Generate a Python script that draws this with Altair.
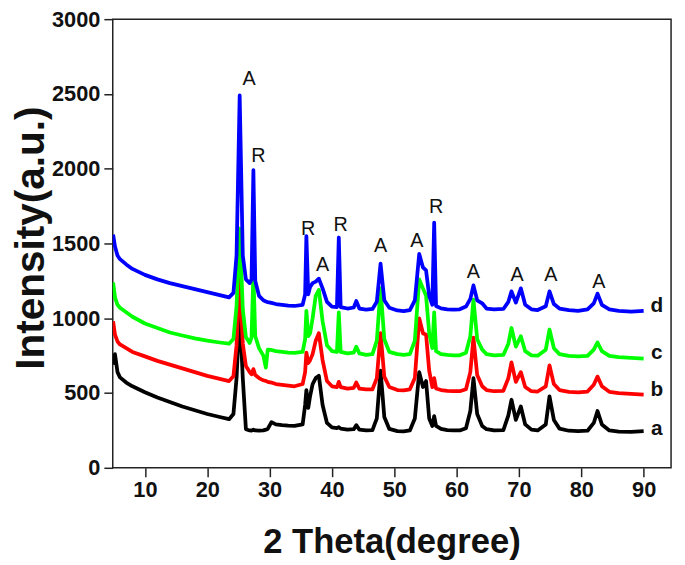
import altair as alt
import pandas as pd

# 2-theta positions (degree) shared by all four patterns
two_theta = [
    4.9, 5.2, 5.6, 6, 7, 8, 10, 12, 14, 16,
    18, 20, 22, 23.5, 24.2, 24.7, 25.2, 25.7, 26.2, 26.8,
    27.1, 27.4, 27.7, 28.3, 29.0, 29.4, 29.7, 30.3, 31, 32,
    33, 34, 35.3, 35.7, 35.9, 36.2, 36.5, 36.9, 37.4, 37.9,
    38.5, 39.2, 40.0, 40.8, 41.1, 41.4, 42.5, 43.5, 43.9, 44.4,
    45.5, 46.5, 47.2, 47.8, 48.4, 49.2, 50.5, 51.5, 52.5, 53.3,
    54.0, 54.6, 55.1, 55.6, 56.1, 56.4, 56.7, 57.5, 58.5, 59.5,
    60.5, 61.5, 62.2, 62.7, 63.3, 64.1, 64.8, 66, 67.5, 68.3,
    68.8, 69.5, 70.3, 71.0, 72, 73, 74.3, 74.9, 75.6, 76.5,
    78, 79.5, 81, 82, 82.6, 83.3, 84.5, 86, 88, 90,
]

intensity_a = [
    690, 760, 640, 605, 570, 545, 505, 470, 440, 410,
    385, 360, 340, 325, 360, 600, 1050, 600, 258, 250,
    248, 255, 250, 248, 250, 255, 260, 305, 290, 285,
    282, 280, 290, 420, 520, 400, 480, 560, 600, 615,
    420, 300, 270, 265, 272, 262, 255, 258, 285, 255,
    250, 252, 330, 650, 340, 260, 245, 243, 250, 330,
    640, 540, 580, 330, 280, 345, 280, 260, 252, 250,
    250, 265, 380, 600, 360, 280, 258, 250, 252, 350,
    455, 320, 410, 290, 255, 250, 290, 478, 320, 262,
    248, 245, 248, 300, 380, 290, 250, 242, 240, 245,
]

intensity_b = [
    980, 890, 845, 825, 800, 775, 745, 715, 690, 665,
    640, 615, 595, 580, 612, 820, 1290, 830, 680, 640,
    625, 660, 620, 600, 585, 580, 575, 570, 560, 555,
    550, 545, 560, 640, 770, 700, 720, 760, 850, 900,
    720, 580, 545, 540, 575, 540, 530, 535, 570, 530,
    525, 525, 600, 900, 610, 540, 520, 518, 525, 600,
    1000, 900, 890, 650, 540, 600, 530, 520, 515, 512,
    512, 525, 640, 870, 620, 545, 520, 512, 515, 600,
    705, 575, 640, 540, 512, 510, 545, 685, 560, 520,
    508, 505, 510, 555, 610, 545, 508, 500, 495, 490,
]

intensity_c = [
    1240, 1140, 1090, 1070, 1040, 1010, 965, 935, 905, 885,
    865, 850, 838, 830, 862, 1080, 1600, 1060, 875, 835,
    870, 1300, 880, 800, 750, 670, 790, 788, 780, 775,
    770, 768, 775, 860, 1050, 880, 900, 1000, 1150, 1190,
    980, 820, 780, 775, 1040, 775, 765, 770, 810, 765,
    755, 760, 850, 1200, 860, 775, 760, 755, 760, 850,
    1260, 1200, 1150, 900, 800, 1040, 780, 760, 755, 752,
    752, 770, 880, 1125, 860, 790, 760, 752, 755, 830,
    935, 810, 880, 780, 752, 750, 790, 925, 800, 760,
    748, 745, 748, 790, 838, 780, 748, 740, 735, 730,
]

intensity_d = [
    1560, 1480, 1420, 1395, 1360, 1330, 1290, 1260, 1235, 1215,
    1195, 1175, 1155, 1140, 1170, 1420, 2490, 1420, 1260, 1235,
    1260, 1990, 1250, 1150, 1120, 1112, 1108, 1103, 1095, 1090,
    1085, 1082, 1090, 1160, 1550, 1160, 1210, 1235, 1245, 1265,
    1200, 1110, 1078, 1075, 1540, 1075, 1065, 1072, 1115, 1065,
    1058, 1062, 1110, 1365, 1120, 1070, 1052, 1048, 1055, 1120,
    1430, 1340, 1320, 1150, 1090, 1640, 1082, 1066, 1060, 1058,
    1060, 1078, 1130, 1220, 1120, 1100, 1065, 1060, 1062, 1110,
    1180, 1105, 1200, 1090, 1060, 1055, 1080, 1180, 1095, 1065,
    1055, 1050, 1060, 1100, 1165, 1090, 1060, 1050, 1045, 1050,
]

series_names = ["a", "b", "c", "d"]
series_colors = ["#000000", "#ff0000", "#00ff00", "#0000ff"]

# phase labels (A = anatase, R = rutile)
peak_text = ["A", "R", "R", "A", "R", "A", "A", "R", "A", "A", "A", "A"]
peak_x = [26.7, 28.2, 36.2, 38.5, 41.4, 47.8, 53.6, 56.7, 62.7, 69.7, 75.1, 82.8]
peak_y = [2600, 2082, 1596, 1353, 1623, 1484, 1516, 1746, 1310, 1287, 1291, 1243]

# sample labels at the right end
end_label_x = [92.1, 92.1, 92.1, 92.1]
end_label_y = [262, 523, 766, 1080]

x_ticks = [10, 20, 30, 40, 50, 60, 70, 80, 90]
y_ticks = [0, 500, 1000, 1500, 2000, 2500, 3000]

FONT = "Liberation Sans"

x_scale = alt.Scale(domain=[4.84, 94.4], nice=False, zero=False)
y_scale = alt.Scale(domain=[0, 3000], nice=False, zero=False)

x_axis = alt.Axis(
    values=x_ticks, title="2 Theta(degree)", grid=False, domain=False,
    labelFont=FONT, labelFontSize=22, labelFontWeight="bold", labelColor="#111",
    labelPadding=3, tickSize=9, tickWidth=1.5, tickColor="#222",
    titleFont=FONT, titleFontSize=35, titleFontWeight="bold", titleColor="#111",
    titleX=282, titleY=75, titleAlign="center", titleBaseline="middle",
)
y_axis = alt.Axis(
    values=y_ticks, format="d", title="Intensity(a.u.)", grid=False, domain=False,
    labelFont=FONT, labelFontSize=22, labelFontWeight="bold", labelColor="#111",
    labelPadding=4, tickSize=9, tickWidth=1.5, tickColor="#222",
    titleFont=FONT, titleFontSize=41, titleFontWeight="bold", titleColor="#111",
    titleX=-82, titleY=221, titleAlign="center", titleBaseline="middle", titleAngle=-90,
)

X = alt.X("x:Q", scale=x_scale, axis=x_axis)
Y = alt.Y("y:Q", scale=y_scale, axis=y_axis)

layers = []
for name, vals, col in zip(series_names,
                           [intensity_a, intensity_b, intensity_c, intensity_d],
                           series_colors):
    df = pd.DataFrame({"x": two_theta, "y": vals})
    layers.append(
        alt.Chart(df).mark_line(color=col, strokeWidth=3.8, strokeJoin="round", clip=True)
        .encode(x=X, y=Y)
    )

peak_df = pd.DataFrame({"x": peak_x, "y": peak_y, "t": peak_text})
peak_layer = alt.Chart(peak_df).mark_text(
    font=FONT, fontSize=20, color="#111", align="center", baseline="middle"
).encode(x=X, y=Y, text="t:N")

end_df = pd.DataFrame({"x": end_label_x, "y": end_label_y, "t": series_names})
end_layer = alt.Chart(end_df).mark_text(
    font=FONT, fontSize=21, fontWeight="bold", color="#111", align="center", baseline="middle"
).encode(x=X, y=Y, text="t:N")

chart = alt.layer(*layers, peak_layer, end_layer).properties(
    width=565, height=454,
    autosize=alt.AutoSizeParams(type="none"),
    padding={"left": 106, "top": 8, "right": 6, "bottom": 90},
).configure_view(stroke="#222", strokeWidth=1.5)

chart.save("out.html", embed_options={"renderer": "svg", "actions": False})
